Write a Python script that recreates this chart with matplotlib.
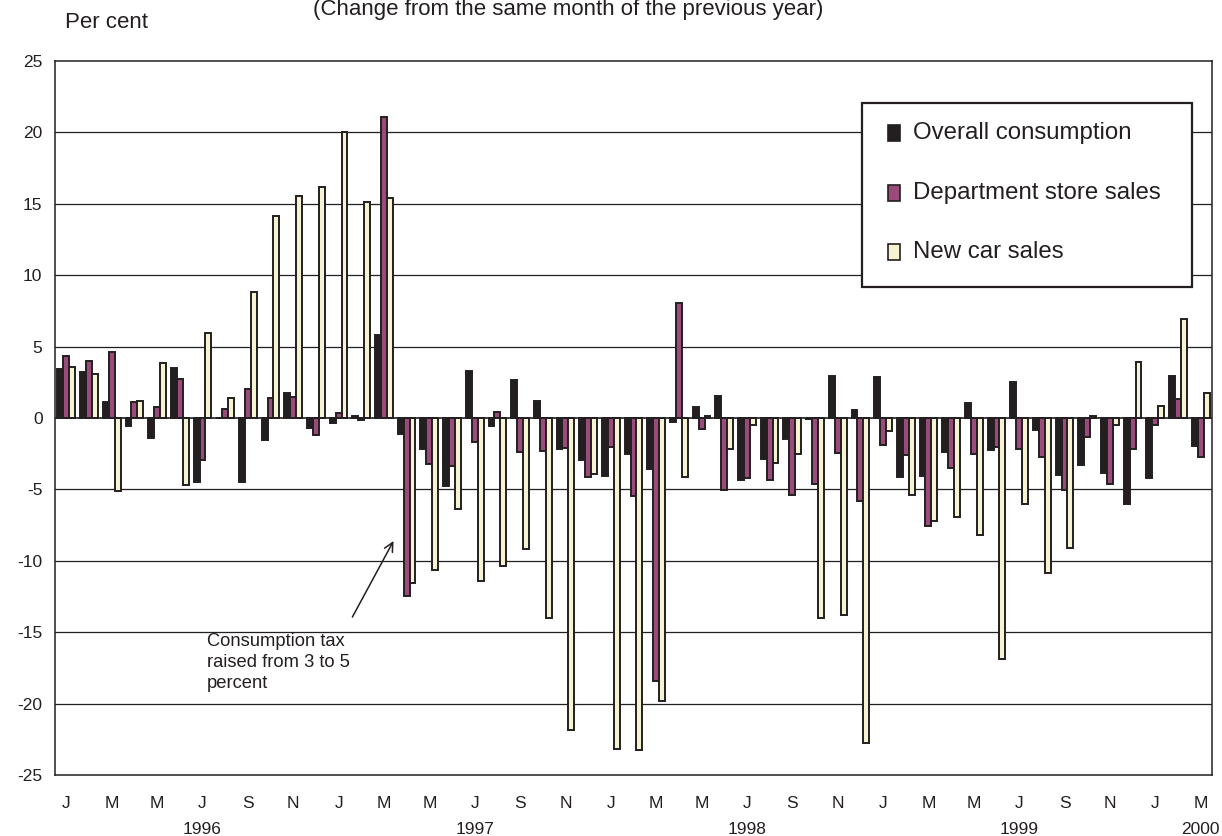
import matplotlib
matplotlib.use("Agg")
import matplotlib.pyplot as plt
from matplotlib.patches import Rectangle
import numpy as np

plt.rcParams['font.family'] = ['Liberation Sans', 'DejaVu Sans']
plt.rcParams['axes.unicode_minus'] = False

# ---- data (Jan 1996 .. Mar 2000, monthly) ----
overall = [3.43, 3.25, 1.14, -0.59, -1.4, 3.53, -4.46, 0.0, -4.46, -1.57, 1.75, -0.7,
           -0.38, 0.11, 5.84, -1.1, -2.17, -4.77, 3.27, -0.54, 2.66, 1.17, -2.17, -2.97,
           -4.07, -2.5, -3.57, -0.26, 0.77, 1.54, -4.37, -2.87, -1.47, -0.1, 2.94, 0.54,
           2.85, -4.16, -4.04, -2.41, 1.07, -2.24, 2.55, -0.86, -3.97, -3.27, -3.88, -6.0,
           -4.18, 2.94, -1.96]
dept = [4.32, 4.0, 4.6, 1.1, 0.8, 2.73, -2.92, 0.63, 2.03, 1.42, 1.49, -1.17,
        0.32, -0.14, 21.1, -12.45, -3.25, -3.34, -1.68, 0.44, -2.38, -2.34, -2.13, -4.14,
        -2.03, -5.44, -18.43, 8.06, -0.78, -5.07, -4.18, -4.32, -5.42, -4.65, -2.45, -5.84,
        -1.92, -2.62, -7.55, -3.48, -2.55, -2.03, -2.15, -2.76, -5.07, -1.36, -4.65, -2.15,
        -0.51, 1.33, -2.73]
cars = [3.6, 3.1, -5.14, 1.19, 3.83, -4.67, 5.93, 1.4, 8.8, 14.13, 15.58, 16.2,
        20.06, 15.1, 15.44, -11.57, -10.63, -6.36, -11.43, -10.35, -9.16, -14.02, -21.85, -3.95,
        -23.18, -23.25, -19.84, -4.14, 0.12, -2.17, -0.51, -3.13, -2.52, -14.02, -13.83, -22.73,
        -0.91, -5.42, -7.22, -6.96, -8.22, -16.87, -6.03, -10.86, -9.07, 0.14, -0.51, 3.93,
        0.82, 6.91, 1.73]
month_letters = ['J', 'F', 'M', 'A', 'M', 'J', 'J', 'A', 'S', 'O', 'N', 'D']
years = ['1996', '1997', '1998', '1999', '2000']
series_names = ['Overall consumption', 'Department store sales', 'New car sales']
title = '(Change from the same month of the previous year)'
ylabel = 'Per cent'
note = 'Consumption tax\nraised from 3 to 5\npercent'

# ---- styling ----
INK = '#231f20'
colors = ['#231f20', '#9b4a7c', '#f6f3d2']

fig = plt.figure(figsize=(12.22, 8.36), dpi=100)
ax = fig.add_axes([55/1222, 1 - 775/836, (1212-55)/1222, (775-61)/836])

n = len(overall)
x = np.arange(n)
w = 0.26
for k, (vals, c) in enumerate(zip([overall, dept, cars], colors)):
    ax.bar(x + (k - 1) * w, vals, width=w, color=c, edgecolor=INK,
           linewidth=1.4, zorder=3)

ax.set_xlim(-0.5, n - 0.5)
ax.set_ylim(-25, 25)
ax.set_yticks(np.arange(-25, 26, 5))
ax.tick_params(axis='y', length=0, pad=9, labelsize=12.5, labelcolor=INK)
ax.set_xticks([])
for yv in range(-20, 21, 5):
    ax.axhline(yv, color=INK, lw=0.9 if yv else 1.2, zorder=1 if yv else 4)
for s in ax.spines.values():
    s.set_color(INK)
    s.set_linewidth(1.1)

# month and year labels
trans = ax.get_xaxis_transform()
for i in range(0, n, 2):
    ax.text(i, -0.04, month_letters[i % 12], transform=trans, ha='center', va='center',
            fontsize=12.5, color=INK)
for j, yr in enumerate(years):
    pos = 6 + 12 * j if j < 4 else n - 1
    ax.text(pos, -0.076, yr, transform=trans, ha='center', va='center',
            fontsize=12.5, color=INK)

# header texts
fig.text(65/1222, 1 - 22/836, ylabel, ha='left', va='center', fontsize=16, color=INK)
fig.text(568/1222, 1 - 10/836, title, ha='center', va='center', fontsize=16, color=INK)

# annotation
ax.annotate('', xy=(14.48, -8.44), xytext=(12.55, -14.11),
            arrowprops=dict(arrowstyle='->', color=INK, lw=1.1,
                            mutation_scale=16), zorder=5)
ax.text(6.2, -15.05, note, ha='left', va='top', fontsize=13.2, color=INK,
        linespacing=1.3, zorder=5)

# legend (manual, in axes coordinates)
lx0 = (862 - 55) / 1157
lx1 = (1192 - 55) / 1157
ly1 = (775 - 103) / 714
ly0 = (775 - 287) / 714
ax.add_patch(Rectangle((lx0, ly0), lx1 - lx0, ly1 - ly0, transform=ax.transAxes,
                       facecolor='white', edgecolor=INK, lw=1.6, zorder=6))
for k, (name, c) in enumerate(zip(series_names, colors)):
    cy = (775 - (133 + 59.5 * k)) / 714
    hw = 12 / 1157
    hh = 16 / 714
    ax.add_patch(Rectangle(((888 - 55) / 1157, cy - hh / 2), hw, hh,
                           transform=ax.transAxes, facecolor=c, edgecolor=INK,
                           lw=1.2, zorder=7))
    ax.text((913 - 55) / 1157, cy, name, transform=ax.transAxes, ha='left',
            va='center', fontsize=17.3, color=INK, zorder=7)

fig.savefig('out.png', dpi=100)
